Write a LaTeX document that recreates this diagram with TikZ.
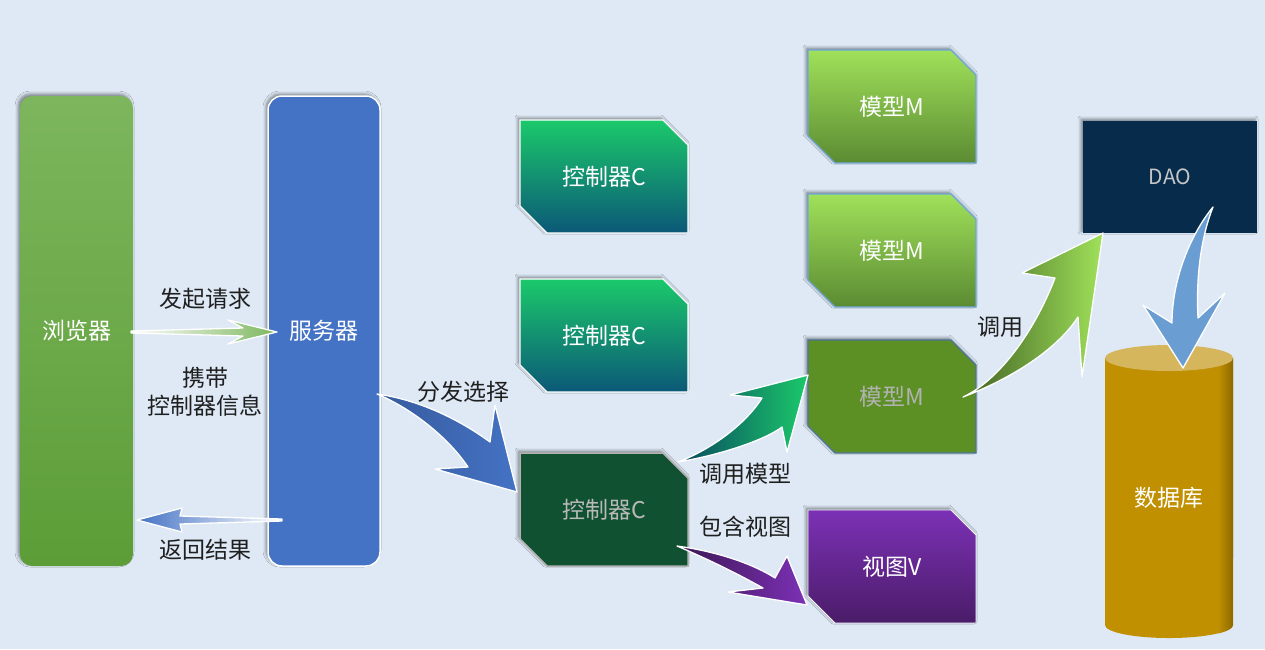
\documentclass[tikz,border=0pt]{standalone}
\usepackage{fontspec}
\setmainfont{Noto Sans CJK SC}
\usetikzlibrary{shadows.blur}
\definecolor{bg}{HTML}{DEE9F5}
\definecolor{brtop}{HTML}{7DB65D}
\definecolor{brbot}{HTML}{5C9D37}
\definecolor{srv}{HTML}{4472C4}
\definecolor{ctop}{HTML}{1BC96B}
\definecolor{cbot}{HTML}{0B5877}
\definecolor{cdark}{HTML}{0F5130}
\definecolor{mtop}{HTML}{A0E15A}
\definecolor{mbot}{HTML}{5B8B32}
\definecolor{mdark}{HTML}{5C9025}
\definecolor{mborder}{HTML}{6FA6DA}
\definecolor{vtop}{HTML}{7C31B6}
\definecolor{vbot}{HTML}{4A1C68}
\definecolor{dao}{HTML}{072C4B}
\definecolor{dbc}{HTML}{C09000}
\definecolor{dbr}{HTML}{8C6800}
\definecolor{dbtop}{HTML}{D6B65C}
\definecolor{arrblue}{HTML}{4472C4}
\definecolor{arrlb}{HTML}{6A9ED3}
\newcommand{\chbox}[6]{%
  \path[#4] (#2,#3) -- ++(143,0) -- ++(25,25) -- ++(0,88) -- ++(-141,0) -- ++(-27,-27) -- cycle;
  \node[boxtxt,text=#5,minimum width=168pt,minimum height=113pt] (#1) at (#2+84,#3+56.5) {#6};
}
\begin{document}
\begin{tikzpicture}[x=1pt,y=-1pt,
  lbl/.style={font=\fontsize{23}{28}\selectfont, text=black!88, align=center, inner sep=0pt},
  boxtxt/.style={font=\fontsize{23}{28}\selectfont, inner sep=0pt},
  shad/.style={blur shadow={shadow xshift=-2pt, shadow yshift=2pt, shadow blur radius=3pt, shadow opacity=45}},
  ctrl/.style={top color=ctop, bottom color=cbot, draw=white, line width=1.2pt, shad},
  ctrld/.style={fill=cdark, draw=gray!60, line width=1.5pt, shad},
  model/.style={top color=mtop, bottom color=mbot, draw=mborder, line width=1.2pt, shad},
  modeld/.style={fill=mdark, draw=mborder!70!black, line width=1.2pt, shad},
  view/.style={top color=vtop, bottom color=vbot, draw=white!70!bg, line width=0.8pt, shad},
  barrow/.style={draw=white, line width=1.3pt, line join=round}
]
\fill[bg] (0,0) rectangle (1265,649);

% browser and server
\node[rounded corners=12pt, top color=brtop, bottom color=brbot, minimum width=113pt, minimum height=470pt, boxtxt, text=white, shad] (browser) at (76.5,331) {浏览器};
\node[rounded corners=14pt, fill=srv, draw=white, line width=1.5pt, minimum width=112pt, minimum height=470pt, boxtxt, text=white, shad] (server) at (324,331) {服务器};

% controllers
\chbox{c1}{520}{120}{ctrl}{white}{控制器C}
\chbox{c2}{520}{279}{ctrl}{white}{控制器C}
\chbox{c3}{520}{453}{ctrld}{gray!55!white}{控制器C}

% models and view
\chbox{m1}{808}{50}{model}{white}{模型M}
\chbox{m2}{808}{194}{model}{white}{模型M}
\chbox{m3}{808}{340}{modeld}{gray!60!white}{模型M}
\chbox{v}{808}{510}{view}{white}{视图V}

% DAO
\node[fill=dao, minimum width=174pt, minimum height=112pt, shad, font=\fontsize{21}{24}\selectfont, text=gray!45!white] (dao) at (1170,177) {DAO};

% database cylinder
\fill[dbc]
  (1105,358) -- (1105,625) arc[start angle=180, end angle=0, x radius=64, y radius=13] -- (1233,358) -- cycle;
\path[left color=dbc, right color=dbr]
  (1218,358) -- (1218,633.4) arc[start angle=40, end angle=0, x radius=64, y radius=13] -- (1233,358) -- cycle;
\fill[dbtop] (1169,358) ellipse[x radius=64, y radius=13];
\node[boxtxt, text=white] (db) at (1169,498) {数据库};

% straight arrows
\path[barrow, left color=white, middle color=brbot!55!black, right color=brtop]
  (131,331) -- (243,328) -- (228,320) -- (277,332) -- (228,344) -- (243,336) -- (131,333) -- cycle;
\path[barrow, left color=arrblue, right color=white]
  (282,519) -- (180,516) -- (182,508) -- (137,520) -- (182,532) -- (180,524) -- (282,521) -- cycle;

% curved arrows
\path[barrow, left color=arrblue!80!black, right color=arrblue]
  (377,394) .. controls (420,400) and (460,420) .. (490,442) -- (495,405) -- (517,492) -- (435,469) -- (468,467)
  .. controls (450,440) and (415,410) .. (377,394) -- cycle;
\path[barrow, left color=cbot!80!black, right color=ctop]
  (678,462) .. controls (710,450) and (745,425) .. (762,398) -- (730,395) -- (808,375) -- (787,452) -- (782,427)
  .. controls (765,440) and (720,455) .. (678,462) -- cycle;
\path[barrow, left color=vbot!80!black, right color=vtop]
  (677,546) .. controls (720,552) and (755,565) .. (775,578) -- (787,556) -- (807,605) -- (728,592) -- (763,588)
  .. controls (740,575) and (710,560) .. (677,546) -- cycle;
\path[barrow, left color=mbot!70!black, right color=mtop]
  (963,397) .. controls (1000,380) and (1035,330) .. (1055,278) -- (1022,273) -- (1103,233) -- (1082,377) -- (1078,317)
  .. controls (1060,345) and (1020,375) .. (963,397) -- cycle;
\path[barrow, fill=arrlb]
  (1213,207) .. controls (1190,235) and (1172,280) .. (1172,323) -- (1143,305) -- (1183,368) -- (1225,293) -- (1198,318)
  .. controls (1196,280) and (1200,240) .. (1213,207) -- cycle;

% labels
\node[lbl] (l1) at (205,299) {发起请求};
\node[lbl] (l2) at (205,392) {携带\\控制器信息};
\node[lbl] (l3) at (205,550) {返回结果};
\node[lbl] (l4) at (463,392) {分发选择};
\node[lbl] (l5) at (745,474) {调用模型};
\node[lbl] (l6) at (745,527) {包含视图};
\node[lbl] (l7) at (1000,327) {调用};
\end{tikzpicture}
\end{document}
